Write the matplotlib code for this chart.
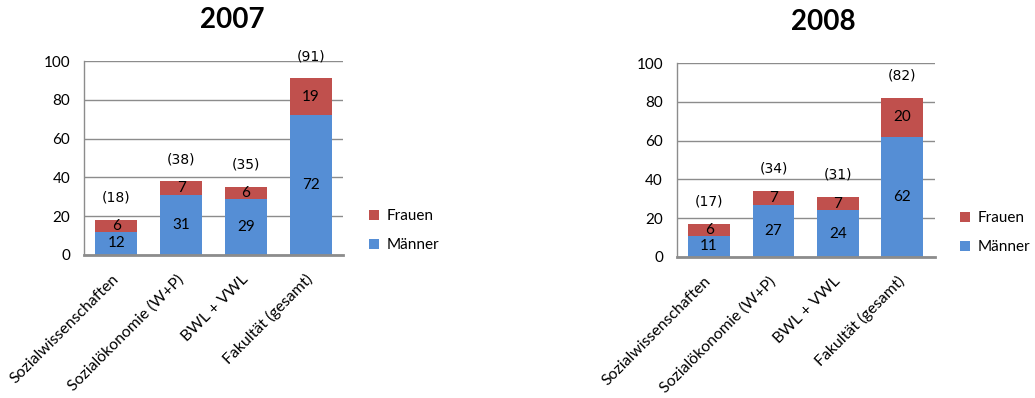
import matplotlib
matplotlib.use("Agg")
import matplotlib.pyplot as plt
import numpy as np

plt.rcParams['font.family'] = ['Lato', 'DejaVu Sans']

categories = ["Sozialwissenschaften", "Sozialökonomie (W+P)", "BWL + VWL", "Fakultät (gesamt)"]
maenner_2007 = [12, 31, 29, 72]
frauen_2007 = [6, 7, 6, 19]
maenner_2008 = [11, 27, 24, 62]
frauen_2008 = [6, 7, 7, 20]

blue = '#558ED5'
red = '#C0504D'
grid = '#8C8C8C'


def draw(ax, maenner, frauen):
    x = np.arange(len(categories))
    w = 0.65
    b1 = ax.bar(x, maenner, width=w, color=blue, label='Männer', zorder=2)
    b2 = ax.bar(x, frauen, width=w, bottom=maenner, color=red, label='Frauen', zorder=2)
    for i in range(len(x)):
        m, f = maenner[i], frauen[i]
        ax.text(x[i], m / 2, str(m), ha='center', va='center', fontsize=11, zorder=3)
        ax.text(x[i], m + f / 2, str(f), ha='center', va='center', fontsize=11, zorder=3)
        ax.annotate('(%d)' % (m + f), (x[i], m + f), xytext=(0, 16), textcoords='offset points',
                    ha='center', va='center', fontsize=10, family='DejaVu Sans')
    ax.set_xlim(-0.5, 3.5)
    ax.set_ylim(0, 100)
    ax.set_yticks([0, 20, 40, 60, 80, 100])
    ax.yaxis.grid(True, color=grid, linewidth=1.0, zorder=0)
    ax.set_axisbelow(True)
    ax.set_xticks(x)
    ax.set_xticklabels(categories, rotation=45, ha='right', va='center', rotation_mode='anchor', fontsize=11.4)
    ax.tick_params(axis='both', length=0)
    ax.tick_params(axis='y', pad=10, labelsize=11)
    ax.tick_params(axis='x', pad=16)
    for s in ['top', 'right']:
        ax.spines[s].set_visible(False)
    ax.spines['left'].set_color(grid)
    ax.spines['left'].set_linewidth(1.0)
    ax.spines['bottom'].set_color(grid)
    ax.spines['bottom'].set_linewidth(2.0)
    ax.legend([b2, b1], ['Frauen', 'Männer'], loc='center left', bbox_to_anchor=(1.10, 0.125),
              frameon=False, fontsize=11, handlelength=0.65, handleheight=0.65,
              handletextpad=0.5, labelspacing=1.0, borderpad=0, borderaxespad=0)


fig = plt.figure(figsize=(10.35, 3.98), dpi=100)
ax1 = fig.add_axes([0.0812, 0.3593, 0.2502, 0.4874])
ax2 = fig.add_axes([0.654, 0.3543, 0.249, 0.4874])
draw(ax1, maenner_2007, frauen_2007)
draw(ax2, maenner_2008, frauen_2008)

fig.text(232 / 1035, 1 - 20 / 398, '2007', ha='center', va='center', fontsize=20, fontweight='bold')
fig.text(823 / 1035, 1 - 22 / 398, '2008', ha='center', va='center', fontsize=20, fontweight='bold')

fig.savefig('out.png', dpi=100)
